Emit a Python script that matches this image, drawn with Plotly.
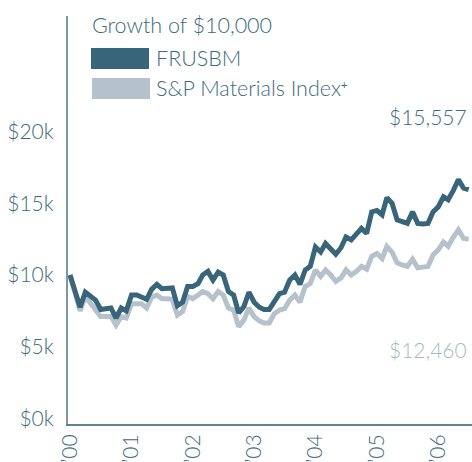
import pandas as pd
import plotly.graph_objects as go

# ---- data (values in US$) ----
dates = pd.date_range("1999-12-31", periods=79, freq="ME")

frusbm_k = [10.0, 8.85, 7.75, 8.8, 8.5, 8.25, 7.6, 7.65, 7.7, 7.0,
            7.7, 7.5, 8.6, 8.6, 8.5, 8.3, 9.0, 9.35, 9.05, 9.1,
            9.1, 7.85, 8.1, 9.2, 9.2, 9.4, 10.0, 10.25, 9.65, 10.2,
            10.0, 8.85, 8.6, 7.35, 7.8, 8.8, 8.1, 7.75, 7.6, 7.6,
            8.15, 8.7, 8.8, 9.65, 10.0, 9.35, 10.35, 10.6, 11.95, 11.6,
            12.2, 11.85, 11.45, 11.9, 12.65, 12.45, 12.8, 13.25, 12.9, 14.4,
            14.5, 14.2, 15.4, 15.0, 13.85, 13.7, 13.6, 14.4, 13.6, 13.55,
            13.6, 14.4, 14.75, 15.45, 15.25, 15.9, 16.65, 16.05, 15.95]

sp_materials_k = [10.0, 8.7, 7.5, 8.5, 8.0, 7.45, 7.1, 7.1, 7.1, 6.5,
                  7.1, 7.0, 8.0, 8.0, 8.0, 7.7, 8.45, 8.6, 8.35, 8.35,
                  8.3, 7.2, 7.45, 8.5, 8.35, 8.6, 8.85, 8.7, 8.35, 8.85,
                  8.6, 7.7, 7.55, 6.4, 6.85, 7.7, 7.1, 6.8, 6.65, 6.65,
                  7.3, 7.55, 7.65, 8.25, 8.6, 8.1, 9.2, 9.4, 10.35, 9.9,
                  10.35, 10.0, 9.55, 9.8, 10.35, 10.0, 10.25, 10.6, 10.4, 11.3,
                  11.5, 11.15, 12.0, 11.6, 10.85, 10.7, 10.6, 11.1, 10.5, 10.55,
                  10.6, 11.4, 11.75, 12.3, 12.0, 12.65, 13.15, 12.55, 12.5]

frusbm = [v * 1000 for v in frusbm_k]
sp_materials = [v * 1000 for v in sp_materials_k]

y_tickvals = [0, 5000, 10000, 15000, 20000]
y_ticktext = ["$0k", "$5k", "$10k", "$15k", "$20k"]
x_tickvals = ["2000-01-01", "2001-01-01", "2002-01-01", "2003-01-01",
              "2004-01-01", "2005-01-01", "2006-01-01"]
x_ticktext = ["’00", "’01", "’02", "’03", "’04", "’05", "’06"]

series_names = ["FRUSBM", "S&P Materials Index<span style='font-size:16px;font-weight:400'><sup>+</sup></span>"]
end_labels = ["$15,557", "$12,460"]

# ---- style ----
DARK = "#386579"
LIGHT = "#b5c1cb"
TEXT = "#3d6a7e"
LIGHT_TEXT = "#a9b7c2"
AXIS = "#7b97a6"
FONT = "Lato, 'Open Sans', sans-serif"
WEIGHT = 300

fig = go.Figure()
fig.add_trace(go.Scatter(x=dates, y=sp_materials, mode="lines",
                         line=dict(color=LIGHT, width=5), name="S&P Materials Index+",
                         showlegend=False, hoverinfo="skip"))
fig.add_trace(go.Scatter(x=dates, y=frusbm, mode="lines",
                         line=dict(color=DARK, width=5), name="FRUSBM",
                         showlegend=False, hoverinfo="skip"))

L, R, T, B = 68, 0, 16, 38
W, H = 472, 462
pw, ph = W - L - R, H - T - B

def px(x):
    return (x - L) / pw

def py(y):
    return (H - B - y) / ph

shapes = [
    dict(type="rect", xref="paper", yref="paper", x0=px(91), x1=px(149),
         y0=py(69), y1=py(48), fillcolor=DARK, line=dict(width=0)),
    dict(type="rect", xref="paper", yref="paper", x0=px(92), x1=px(150),
         y0=py(99), y1=py(78), fillcolor=LIGHT, line=dict(width=0)),
]

def tf(color=TEXT, size=21):
    return dict(size=size, color=color, family=FONT, weight=WEIGHT)

annotations = [
    dict(text="Growth of $10,000", xref="paper", yref="paper", x=px(90), y=py(25),
         xanchor="left", yanchor="middle", showarrow=False, font=tf(size=21.5)),
    dict(text=series_names[0], xref="paper", yref="paper", x=px(154), y=py(58),
         xanchor="left", yanchor="middle", showarrow=False, font=tf(size=21.5)),
    dict(text=series_names[1], xref="paper", yref="paper", x=px(154), y=py(88),
         xanchor="left", yanchor="middle", showarrow=False, font=tf(size=21.5)),
    dict(text=end_labels[0], xref="paper", yref="paper", x=px(469), y=py(116),
         xanchor="right", yanchor="middle", showarrow=False, font=tf()),
    dict(text=end_labels[1], xref="paper", yref="paper", x=px(469), y=py(349),
         xanchor="right", yanchor="middle", showarrow=False, font=tf(LIGHT_TEXT)),
]

fig.update_layout(
    width=W, height=H,
    margin=dict(l=L, r=R, t=T, b=B, pad=0),
    paper_bgcolor="white", plot_bgcolor="white",
    showlegend=False,
    shapes=shapes,
    annotations=annotations,
    font=dict(family=FONT, color=TEXT, size=21),
    xaxis=dict(type="date", range=["1999-12-19", "2006-07-20"],
               tickvals=x_tickvals, ticktext=x_ticktext, tickangle=-90,
               showgrid=False, zeroline=False, showline=True,
               linecolor="#5f8294", linewidth=2, ticks="",
               tickfont=tf()),
    yaxis=dict(range=[-390, 28060], tickvals=y_tickvals, ticktext=y_ticktext,
               showgrid=False, zeroline=False, showline=True,
               linecolor=AXIS, linewidth=2, ticks="", ticklabelstandoff=8,
               tickfont=tf()),
)

fig.write_html("out.html")
